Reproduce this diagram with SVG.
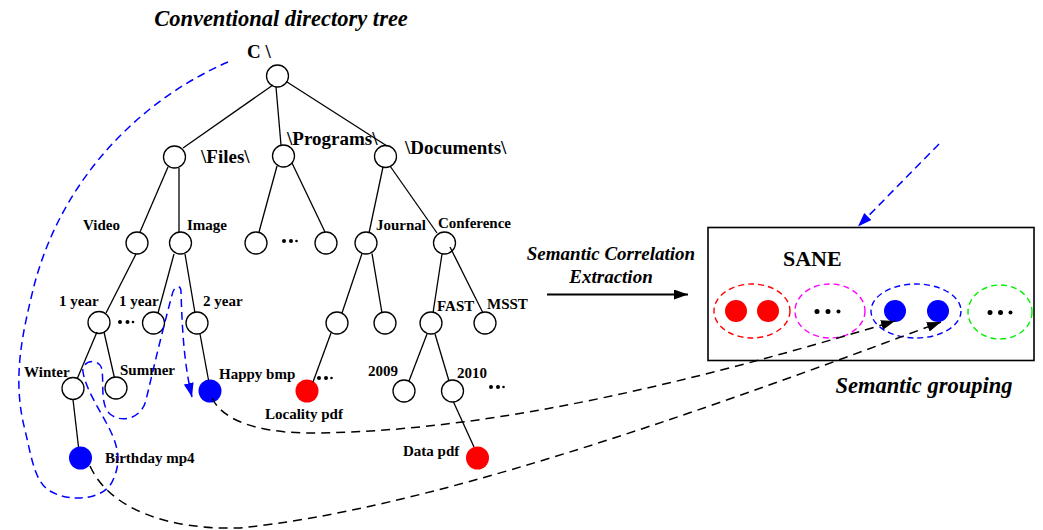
<svg xmlns="http://www.w3.org/2000/svg" width="1043" height="530" viewBox="0 0 1043 530">
  <style>
    .n { fill: #fff; stroke: #000; stroke-width: 1.3; }
    .blue { fill: #0000ff; }
    .red { fill: #ff0000; }
    .e { stroke: #000; stroke-width: 1.3; fill: none; }
    .t { font-family: "Liberation Serif", "Times New Roman", serif; font-weight: bold; font-size: 15px; fill: #000; }
    .big { font-size: 19px; }
    .h1 { font-size: 22.5px; }
    .h2 { font-size: 19px; }
    .h3 { font-size: 22px; }
    .it { font-style: italic; }
    .dot { fill: #000; }
    .grp { fill: none; stroke-width: 1.4; stroke-dasharray: 6 4; }
    .link { fill: none; stroke: #000; stroke-width: 1.5; stroke-dasharray: 9 6; }
    .bl { fill: none; stroke: #0000ff; stroke-width: 1.5; stroke-dasharray: 8 5; }
  </style>
  <defs>
    <marker id="ah-black" markerUnits="userSpaceOnUse" markerWidth="16" markerHeight="12" refX="14" refY="5" orient="auto">
      <path d="M0,0 L14,5 L0,10 z" fill="#000"/>
    </marker>
    <marker id="ah-blue" markerUnits="userSpaceOnUse" markerWidth="16" markerHeight="12" refX="14" refY="5" orient="auto">
      <path d="M0,0 L14,5 L0,10 z" fill="#0000ff"/>
    </marker>
  </defs>

  <rect width="1043" height="530" fill="#fff"/>

  <!-- headings -->
  <text class="t it h1" x="281" y="26" text-anchor="middle">Conventional directory tree</text>
  <text class="t it h2" x="611" y="260" text-anchor="middle">Semantic Correlation</text>
  <text class="t it h2" x="611" y="283" text-anchor="middle">Extraction</text>
  <text class="t it h1" x="924" y="393" text-anchor="middle">Semantic grouping</text>

  <!-- directory tree nodes -->
  <g id="root"><circle class="n" cx="277.5" cy="76" r="11"/><text class="t big" x="247" y="58">C \</text></g>
  <g id="files"><circle class="n" cx="174.5" cy="157" r="11"/><text class="t big" x="201" y="163">\Files\</text></g>
  <g id="programs"><circle class="n" cx="283.5" cy="156" r="11"/><text class="t big" x="287" y="145">\Programs\</text></g>
  <g id="documents"><circle class="n" cx="385.5" cy="156.5" r="11"/><text class="t big" x="405" y="154">\Documents\</text></g>

  <g id="video"><circle class="n" cx="137" cy="243" r="11"/><text class="t" x="83" y="230">Video</text></g>
  <g id="image"><circle class="n" cx="180.5" cy="243" r="11"/><text class="t" x="187" y="230">Image</text></g>
  <g id="prog-a"><circle class="n" cx="256" cy="243" r="11"/></g>
  <g id="prog-dots"><circle class="dot" cx="284" cy="241" r="2"/><circle class="dot" cx="291" cy="241" r="2"/><circle class="dot" cx="296.5" cy="241" r="1.3"/></g>
  <g id="prog-b"><circle class="n" cx="326" cy="243" r="11"/></g>
  <g id="journal"><circle class="n" cx="366" cy="243" r="11"/><text class="t" x="376" y="230">Journal</text></g>
  <g id="conference"><circle class="n" cx="444.5" cy="243" r="11"/><text class="t" x="438" y="228">Conference</text></g>

  <g id="video-1year"><circle class="n" cx="99" cy="322.5" r="11"/><text class="t" x="59" y="306">1 year</text></g>
  <g id="video-dots"><circle class="dot" cx="120" cy="322" r="2"/><circle class="dot" cx="127.5" cy="322" r="2"/><circle class="dot" cx="133" cy="322" r="1.3"/></g>
  <g id="image-1year"><circle class="n" cx="153.5" cy="323" r="11"/><text class="t" x="119" y="306">1 year</text></g>
  <g id="image-2year"><circle class="n" cx="197" cy="323" r="11"/><text class="t" x="203" y="306">2 year</text></g>
  <g id="journal-a"><circle class="n" cx="337" cy="323" r="11"/></g>
  <g id="journal-b"><circle class="n" cx="385" cy="323" r="11"/></g>
  <g id="fast"><circle class="n" cx="431" cy="323" r="11"/><text class="t" x="437" y="311">FAST</text></g>
  <g id="msst"><circle class="n" cx="485" cy="323" r="11"/><text class="t" x="487" y="309">MSST</text></g>

  <g id="winter"><circle class="n" cx="73" cy="388.5" r="11"/><text class="t" x="24" y="377">Winter</text></g>
  <g id="summer"><circle class="n" cx="116" cy="388" r="11"/><text class="t" x="120" y="375">Summer</text></g>
  <g id="happy"><circle class="blue" cx="210" cy="391" r="11.5"/><text class="t" x="219" y="379">Happy bmp</text></g>
  <g id="locality"><circle class="red" cx="307" cy="391" r="11.5"/><text class="t" x="265" y="419">Locality pdf</text></g>
  <g id="journal-dots"><circle class="dot" cx="319" cy="378" r="2"/><circle class="dot" cx="326" cy="378" r="2"/><circle class="dot" cx="331.5" cy="378" r="1.3"/></g>
  <g id="y2009"><circle class="n" cx="404" cy="391" r="11"/><text class="t" x="368" y="376">2009</text></g>
  <g id="y2010"><circle class="n" cx="452.5" cy="391" r="11"/><text class="t" x="457" y="378">2010</text></g>
  <g id="fast-dots"><circle class="dot" cx="491" cy="387" r="2"/><circle class="dot" cx="498" cy="387" r="2"/><circle class="dot" cx="503.5" cy="387" r="1.3"/></g>

  <g id="birthday"><circle class="blue" cx="80.5" cy="458" r="11.5"/><text class="t" x="105" y="463">Birthday mp4</text></g>
  <g id="data"><circle class="red" cx="477.5" cy="458" r="11.5"/><text class="t" x="403" y="456">Data pdf</text></g>

  <!-- SANE store with semantic groups -->
  <g id="sane">
    <rect x="708" y="227.5" width="326" height="133" fill="none" stroke="#000" stroke-width="1.6"/>
    <text class="t h3" x="783" y="266">SANE</text>
  </g>
  <g id="group-red">
    <ellipse class="grp" cx="752" cy="311" rx="38" ry="27" stroke="#ff0000"/>
    <circle class="red" cx="736" cy="311" r="11"/>
    <circle class="red" cx="768" cy="311" r="11"/>
  </g>
  <g id="group-magenta">
    <ellipse class="grp" cx="830" cy="311" rx="35" ry="27" stroke="#ff00ff"/>
    <circle class="dot" cx="817" cy="311.5" r="2.5"/><circle class="dot" cx="828" cy="311.5" r="2.5"/><circle class="dot" cx="838.5" cy="311.5" r="2"/>
  </g>
  <g id="group-blue">
    <ellipse class="grp" cx="916" cy="311" rx="45" ry="27" stroke="#0000ff"/>
    <circle class="blue" cx="895" cy="311" r="11"/>
    <circle class="blue" cx="938" cy="311" r="11"/>
  </g>
  <g id="group-green">
    <ellipse class="grp" cx="1000" cy="312" rx="32" ry="27" stroke="#00ee00"/>
    <circle class="dot" cx="990" cy="312.5" r="2.5"/><circle class="dot" cx="1000.5" cy="312.5" r="2.5"/><circle class="dot" cx="1010.5" cy="312.5" r="2"/>
  </g>

  <!-- connectors -->
  <g id="connectors">
    <!-- tree edges -->
    <line class="e" x1="273" y1="85" x2="183" y2="148"/>
    <line class="e" x1="276" y1="87" x2="281" y2="145"/>
    <line class="e" x1="287" y1="82" x2="387" y2="146"/>
    <line class="e" x1="168" y1="167" x2="140" y2="232"/>
    <line class="e" x1="179" y1="168" x2="179" y2="232"/>
    <line class="e" x1="277" y1="166" x2="259" y2="232"/>
    <line class="e" x1="292" y1="163" x2="325" y2="232"/>
    <line class="e" x1="383" y1="167" x2="369" y2="233"/>
    <line class="e" x1="390" y1="166" x2="437" y2="233"/>
    <line class="e" x1="136" y1="254" x2="106" y2="313"/>
    <line class="e" x1="174" y1="254" x2="158" y2="313"/>
    <line class="e" x1="185" y1="254" x2="195" y2="313"/>
    <line class="e" x1="362" y1="253.5" x2="342" y2="313"/>
    <line class="e" x1="372" y1="253.5" x2="382" y2="313"/>
    <line class="e" x1="442" y1="254" x2="433" y2="313"/>
    <line class="e" x1="450" y1="247" x2="483" y2="313"/>
    <line class="e" x1="97" y1="332" x2="77.5" y2="378"/>
    <line class="e" x1="104" y1="332" x2="114.5" y2="378"/>
    <line class="e" x1="200" y1="334" x2="208.5" y2="380"/>
    <line class="e" x1="331" y1="333" x2="313" y2="382"/>
    <line class="e" x1="427" y1="334" x2="409" y2="381"/>
    <line class="e" x1="435" y1="334" x2="449" y2="381"/>
    <line class="e" x1="73" y1="399.5" x2="78.5" y2="447"/>
    <line class="e" x1="453.5" y1="402" x2="474" y2="447"/>

    <!-- extraction arrow -->
    <line x1="547" y1="294.5" x2="688" y2="294.5" stroke="#000" stroke-width="2" marker-end="url(#ah-black)"/>

    <!-- incoming blue arrow onto SANE -->
    <line class="bl" x1="939" y1="144" x2="858" y2="226.5" marker-end="url(#ah-blue)"/>

    <!-- blue traversal path through the tree -->
    <path class="bl" marker-end="url(#ah-blue)" d="M228,62 C140,100 60,180 33,290 C22,335 12,380 25,430 C32,460 35,482 50,491 C70,503 105,500 113,480 C120,465 120,450 110,430 C100,410 86,390 83,372 C81,360 100,357 102,370 C104,385 100,405 110,414 C122,424 142,418 146,400 C152,375 160,340 172,295 C174,285 181,284 181,292 C182,320 183,360 192,397"/>

    <!-- files mapped into the semantic group -->
    <path class="link" marker-end="url(#ah-black)" d="M212,398 C225,425 270,434 320,433 C500,430 700,380 895,321"/>
    <path class="link" marker-end="url(#ah-black)" d="M90,466 C110,510 170,530 240,528 C420,510 680,420 941,322"/>
  </g>
</svg>
